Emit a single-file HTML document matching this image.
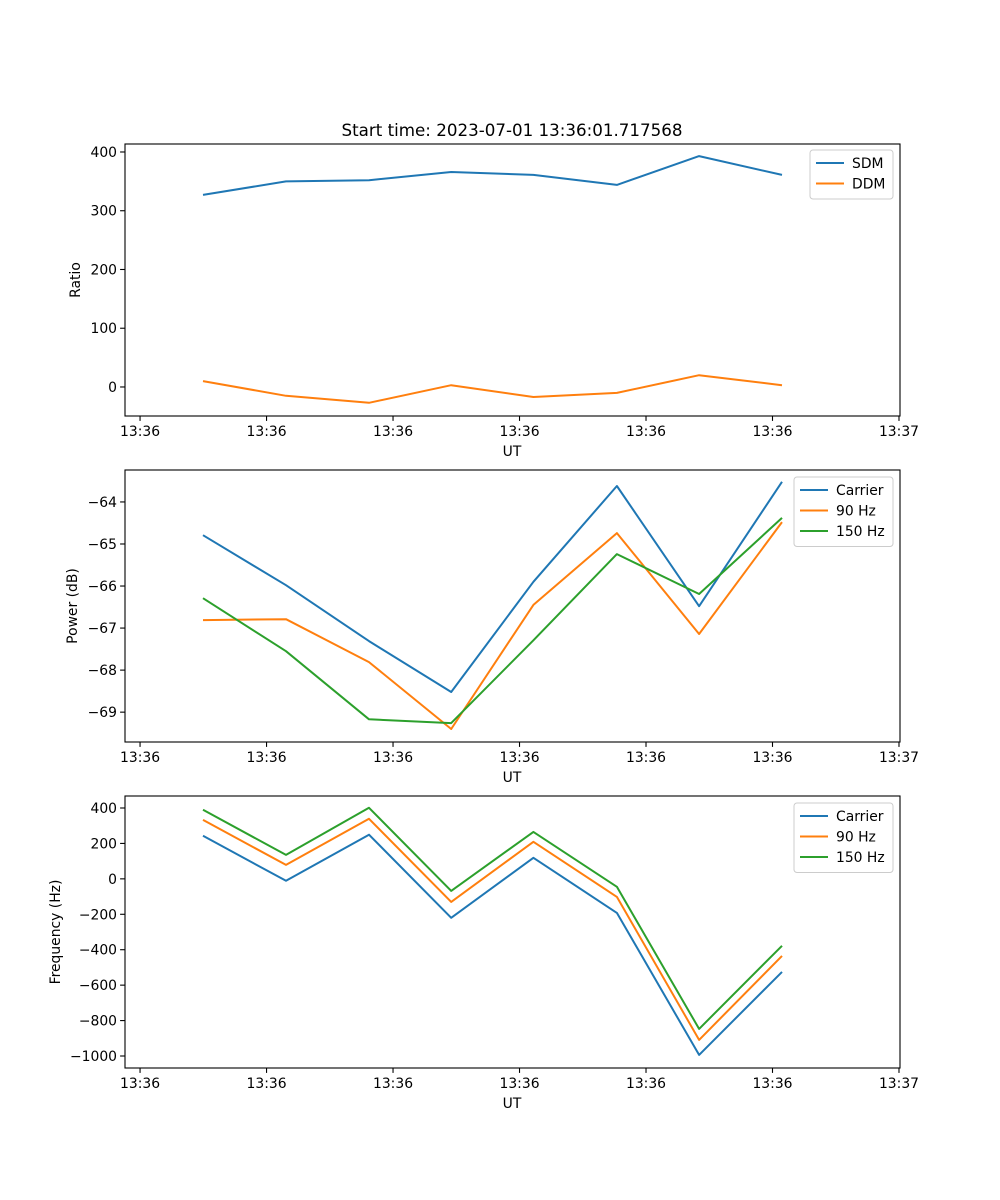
<!DOCTYPE html>
<html><head><meta charset="utf-8"><style>
html,body{margin:0;padding:0;background:#fff;}
svg{display:block;font-family:"DejaVu Sans","Liberation Sans",sans-serif;}
</style></head><body>
<svg id="fig" width="1000" height="1200" viewBox="0 0 1000 1200" xmlns="http://www.w3.org/2000/svg">
<rect width="1000" height="1200" fill="#fff"/>
<text x="512" y="136" font-size="16.7" text-anchor="middle">Start time: 2023-07-01 13:36:01.717568</text>
</svg>
<script>
const xTimes = [0.498, 1.154, 1.81, 2.46, 3.11, 3.77, 4.42, 5.075];
const xTickVals = [0, 1, 2, 3, 4, 5, 6];
const xTickLabels = ["13:36","13:36","13:36","13:36","13:36","13:36","13:37"];
const sdm = [327, 350, 352, 366, 361, 344, 393, 361];
const ddm = [10, -15, -27, 3, -17, -10, 20, 3];
const powCarrier = [-64.79, -65.98, -67.31, -68.52, -65.9, -63.62, -66.48, -63.52];
const pow90 = [-66.81, -66.79, -67.81, -69.40, -66.45, -64.74, -67.14, -64.48];
const pow150 = [-66.29, -67.55, -69.17, -69.26, -67.29, -65.24, -66.19, -64.38];
const freqCarrier = [243, -11, 249, -220, 119, -192, -994, -525];
const freq90 = [333, 79, 339, -130, 209, -102, -909, -435];
const freq150 = [390, 135, 401, -68, 265, -45, -847, -378];
const ticks1 = [0, 100, 200, 300, 400];
const ticks2 = [-69, -68, -67, -66, -65, -64];
const ticks3 = [-1000, -800, -600, -400, -200, 0, 200, 400];

const NS = "http://www.w3.org/2000/svg";
const svg = document.getElementById("fig");
const C = {blue:"#1f77b4", orange:"#ff7f0e", green:"#2ca02c"};
function mk(tag, attrs, parent){
  const e = document.createElementNS(NS, tag);
  for (const k in attrs) e.setAttribute(k, attrs[k]);
  (parent || svg).appendChild(e);
  return e;
}
const X0 = 125, X1 = 900, xMin = -0.119, xMax = 6.008;
function xs(v){ return X0 + (v - xMin) / (xMax - xMin) * (X1 - X0); }

function panel(name, top, bottom, yMin, yMax, yTicks, ylabel, ylabelX, series, legend){
  const g = mk("g", {});
  
  
  const ys = v => bottom - (v - yMin) / (yMax - yMin) * (bottom - top);
  const clip = mk("clipPath", {id: name + "-clip"}, g);
  mk("rect", {x: X0, y: top, width: X1 - X0, height: bottom - top}, clip);
  series.forEach(s => {
    const pts = s.data.map((v, i) => xs(xTimes[i]).toFixed(1) + "," + ys(v).toFixed(1)).join(" ");
    const pl = mk("polyline", {points: pts, fill: "none", stroke: s.color, "stroke-width": 2, "stroke-linejoin": "round", "clip-path": "url(#" + name + "-clip)"}, g);
    
    
  });
  const frame = mk("rect", {x: X0, y: top, width: X1 - X0, height: bottom - top, fill: "none", stroke: "#000", "stroke-width": 1.1}, g);
  
  
  xTickVals.forEach((v, i) => {
    const x = xs(v);
    mk("line", {x1: x, x2: x, y1: bottom, y2: bottom + 4.9, stroke: "#000", "stroke-width": 1.1}, g);
    const t = mk("text", {x: x, y: bottom + 20, "font-size": 13.9, "text-anchor": "middle"}, g);
    t.textContent = xTickLabels[i];
    
    
  });
  yTicks.forEach(v => {
    const y = ys(v);
    mk("line", {x1: X0, x2: X0 - 4.9, y1: y, y2: y, stroke: "#000", "stroke-width": 1.1}, g);
    const t = mk("text", {x: X0 - 8, y: y + 5, "font-size": 13.9, "text-anchor": "end"}, g);
    t.textContent = v < 0 ? "\u2212" + Math.abs(v) : String(v);
    
    
  });
  const xl = mk("text", {x: 512, y: bottom + 40, "font-size": 13.9, "text-anchor": "middle"}, g);
  xl.textContent = "UT";
  
  
  const cy = (top + bottom) / 2;
  const yl = mk("text", {x: ylabelX, y: cy, "font-size": 13.9, "text-anchor": "middle", transform: "rotate(-90 " + ylabelX + " " + cy + ")"}, g);
  yl.textContent = ylabel;
  
  
  const lg = mk("g", {}, g);
  
  
  mk("rect", {x: legend.x, y: legend.y, width: legend.w, height: 8 + series.length * 20.5, rx: 3, fill: "#fff", "fill-opacity": 0.8, stroke: "#ccc", "stroke-width": 1}, lg);
  series.forEach((s, i) => {
    const y = legend.y + 13 + i * 20.5;
    const e = mk("g", {}, lg);
    
    
    mk("line", {x1: legend.x + 6, x2: legend.x + 34, y1: y, y2: y, stroke: s.color, "stroke-width": 2}, e);
    const t = mk("text", {x: legend.x + 42, y: y + 5, "font-size": 13.9}, e);
    t.textContent = s.label;
  });
}

panel("ratio-panel", 144, 416, -49.4, 413.6, ticks1, "Ratio", 80,
  [{key:"sdm", label:"SDM", color:C.blue, data:sdm},{key:"ddm", label:"DDM", color:C.orange, data:ddm}],
  {x: 810, y: 150, w: 83});
panel("power-panel", 470, 742, -69.71, -63.24, ticks2, "Power (dB)", 77,
  [{key:"carrier", label:"Carrier", color:C.blue, data:powCarrier},{key:"90hz", label:"90 Hz", color:C.orange, data:pow90},{key:"150hz", label:"150 Hz", color:C.green, data:pow150}],
  {x: 794, y: 477, w: 99});
panel("frequency-panel", 796, 1068, -1067.7, 467.7, ticks3, "Frequency (Hz)", 60,
  [{key:"carrier", label:"Carrier", color:C.blue, data:freqCarrier},{key:"90hz", label:"90 Hz", color:C.orange, data:freq90},{key:"150hz", label:"150 Hz", color:C.green, data:freq150}],
  {x: 794, y: 803, w: 99});
</script>
</body></html>
